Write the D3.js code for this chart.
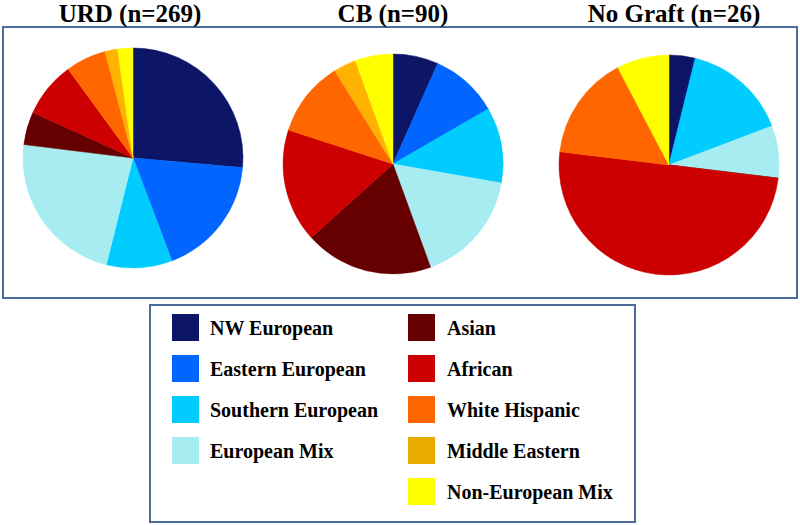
<!DOCTYPE html>
<html>
<head>
<meta charset="utf-8">
<script src="https://cdn.jsdelivr.net/npm/d3@7"></script>
<style>
  body { margin: 0; background: #fff; }
  text { font-family: "Liberation Serif", "Times New Roman", serif; font-weight: bold; fill: #000; }
</style>
</head>
<body>
<div id="vis-holder"></div>
<script>
// Set dimensions
const width = 800;
const height = 525;

// Data
const categories = ["NW European", "Eastern European", "Southern European", "European Mix",
                    "Asian", "African", "White Hispanic", "Middle Eastern", "Non-European Mix"];
const colors = ["#0c1566", "#0066ff", "#00ccff", "#a6ecf0",
                "#660000", "#cc0000", "#ff6600", "#ffb300", "#ffff00"];
const legendColors = ["#0c1566", "#0066ff", "#00ccff", "#a6ecf0",
                      "#660000", "#cc0000", "#ff6600", "#e8ac00", "#ffff00"];
const groups = ["URD (n=269)", "CB (n=90)", "No Graft (n=26)"];
const urdCounts = [71, 48, 26, 62, 13, 22, 16, 5, 6];
const cbCounts = [6, 9, 10, 15, 17, 15, 10, 3, 5];
const noGraftCounts = [1, 0, 4, 2, 0, 13, 4, 0, 2];
const allCounts = [urdCounts, cbCounts, noGraftCounts];

const color = d3.scaleOrdinal().domain(categories).range(colors);
const legendColor = d3.scaleOrdinal().domain(categories).range(legendColors);

const svg = d3.select("#vis-holder")
              .append("svg")
              .attr("width", width)
              .attr("height", height);

// Outer box round the pies
svg.append("rect")
   .attr("x", 3).attr("y", 27)
   .attr("width", 794).attr("height", 271)
   .attr("fill", "none")
   .attr("stroke", "#4a6b9c")
   .attr("stroke-width", 2);

// Pie positions
const centersX = [133, 393, 669];
const centersY = [158, 164, 165];
const titleX = [130, 393, 674];
const radius = 110;

const pie = d3.pie().sort(null).value((d) => d.value);
const arc = d3.arc().innerRadius(0).outerRadius(radius);

allCounts.forEach((counts, i) => {
  const data = categories.map((c, j) => ({ cat: c, value: counts[j] }));

  svg.append("text")
     .attr("x", titleX[i])
     .attr("y", 22)
     .attr("text-anchor", "middle")
     .attr("font-size", "25px")
     .text(groups[i]);

  const g = svg.append("g")
               .attr("transform", `translate(${centersX[i]},${centersY[i]})`);

  g.selectAll("path")
   .data(pie(data))
   .enter()
   .append("path")
     .attr("d", arc)
     .attr("fill", (d) => color(d.data.cat))
     .attr("stroke", (d) => color(d.data.cat))
     .attr("stroke-width", 0.5);
});

// Legend
svg.append("rect")
   .attr("x", 150).attr("y", 305)
   .attr("width", 485).attr("height", 217)
   .attr("fill", "none")
   .attr("stroke", "#4a6b9c")
   .attr("stroke-width", 2);

const legendX = [172, 408];
const legendY0 = 314;
const rowStep = 41;

const items = svg.selectAll(".legend")
  .data(categories)
  .enter()
  .append("g")
    .attr("class", "legend")
    .attr("transform", (d, i) => {
      const col = i < 4 ? 0 : 1;
      const row = i < 4 ? i : i - 4;
      return `translate(${legendX[col]},${legendY0 + row * rowStep})`;
    });

items.append("rect")
     .attr("width", 27)
     .attr("height", 27)
     .attr("fill", (d) => legendColor(d));

items.append("text")
     .attr("x", (d, i) => i < 4 ? 38 : 39)
     .attr("y", 21)
     .attr("font-size", "20px")
     .text((d) => d);
</script>
</body>
</html>
